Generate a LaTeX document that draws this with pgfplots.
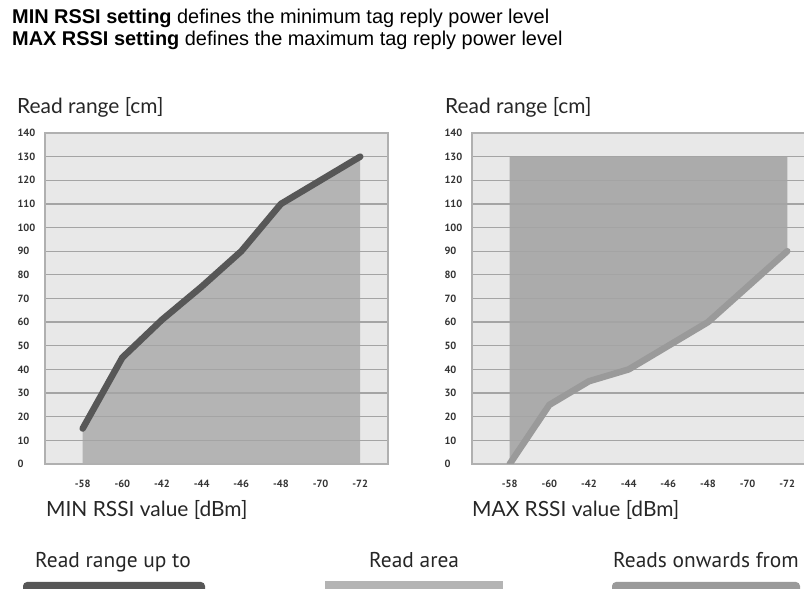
\documentclass[border=0pt]{standalone}
\usepackage{fontspec}
\setmainfont{Liberation Sans}
\newfontfamily\lato{Lato}
\newfontfamily\ptsans{PT Sans}
\usepackage{pgfplots}
\pgfplotsset{compat=1.18}

\definecolor{plotbg}{HTML}{E8E8E8}
\definecolor{gridc}{HTML}{A4A4A4}
\definecolor{framec}{HTML}{B0B0B0}
\definecolor{areac}{HTML}{B4B4B4}
\definecolor{areac2}{HTML}{ABABAB}
\definecolor{minline}{HTML}{575757}
\definecolor{maxline}{HTML}{9A9A9A}

\pgfplotsset{
  rssi/.style={
    set layers=standard,
    scale only axis,
    width=343bp, height=331bp,
    anchor=south west,
    xmin=-0.95, xmax=7.7,
    ymin=0, ymax=140,
    xtick={0,...,7},
    xticklabels={-58,-60,-42,-44,-46,-48,-70,-72},
    ytick={0,10,...,140},
    ymajorgrids,
    grid style={gridc, line width=1.3bp},
    axis line style={framec, line width=1.5bp},
    axis background/.style={fill=plotbg},
    major tick length=0pt,
    /pgf/number format/assume math mode=true,
    ticklabel style={font=\ptsans\bfseries\fontsize{10.5}{11}\selectfont, text=black!80},
    yticklabel style={anchor=west, xshift=-31bp},
    xticklabel style={yshift=-13bp},
  }
}

\begin{document}
\begin{tikzpicture}[x=1bp, y=1bp]

% header
\node[anchor=base west, inner sep=0pt, font=\fontsize{20}{22}\selectfont] at (12,565)
  {\textbf{MIN RSSI setting} defines the minimum tag reply power level};
\node[anchor=base west, inner sep=0pt, font=\fontsize{20}{22}\selectfont] at (12,543)
  {\textbf{MAX RSSI setting} defines the maximum tag reply power level};

% left chart
\begin{axis}[rssi, at={(45bp,125bp)}]
  \addplot[on layer=axis background, fill=areac, draw=none] coordinates {
    (0,15) (1,45) (2,61) (3,75) (4,90) (5,110) (6,120) (7,130)
  } \closedcycle;
  \addplot[minline, line width=6.5bp, line cap=round, line join=round] coordinates {
    (0,15) (1,45) (2,61) (3,75) (4,90) (5,110) (6,120) (7,130)
  };
\end{axis}

% right chart
\begin{axis}[rssi, at={(472bp,125bp)}]
  \addplot[on layer=axis background, fill=areac2, draw=none] coordinates {
    (0,0) (1,25) (2,35) (3,40) (4,50) (5,60) (6,75) (7,90) (7,130) (0,130)
  } -- cycle;
  \addplot[maxline, line width=6.5bp, line cap=round, line join=round] coordinates {
    (0,0) (1,25) (2,35) (3,40) (4,50) (5,60) (6,75) (7,90)
  };
\end{axis}

% axis titles
\node[anchor=base west, inner sep=0pt, font=\lato\fontsize{21}{24}\selectfont, text=black!85] at (17,475) {Read range [cm]};
\node[anchor=base west, inner sep=0pt, font=\lato\fontsize{21}{24}\selectfont, text=black!85] at (445,475) {Read range [cm]};
\node[anchor=base west, inner sep=0pt, font=\lato\fontsize{21}{24}\selectfont, text=black!85] at (46,72) {MIN RSSI value [dBm]};
\node[anchor=base west, inner sep=0pt, font=\lato\fontsize{21}{24}\selectfont, text=black!85] at (472,72) {MAX RSSI value [dBm]};

% legend
\node[anchor=base west, inner sep=0pt, font=\ptsans\fontsize{21.5}{24}\selectfont, text=black!85] at (35,21) {Read range up to};
\node[anchor=base west, inner sep=0pt, font=\ptsans\fontsize{21.5}{24}\selectfont, text=black!85] at (369,21) {Read area};
\node[anchor=base west, inner sep=0pt, font=\ptsans\fontsize{21.5}{24}\selectfont, text=black!85] at (613,21) {Reads onwards from};
\fill[minline, rounded corners=4bp] (23,-6) rectangle (205,7);
\fill[areac] (325,-6) rectangle (503,8);
\fill[maxline, rounded corners=4bp] (612,-6) rectangle (800,7);

\pgfresetboundingbox
\path (0,0) rectangle (804,589);
\end{tikzpicture}
\end{document}
